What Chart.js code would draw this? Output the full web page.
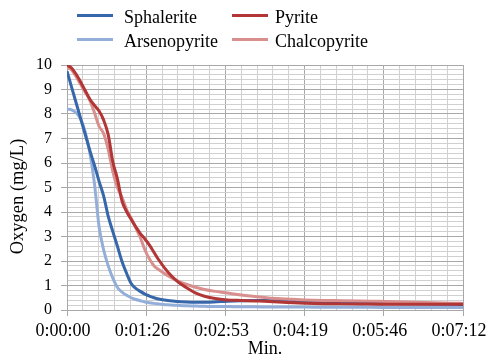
<!DOCTYPE html>
<html>
<head>
<meta charset="utf-8">
<script src="https://cdn.jsdelivr.net/npm/chart.js@4.4.1/dist/chart.umd.min.js"></script>
<style>
  body { margin: 0; background: #fff; }
  #contenedor { position: relative; width: 487px; height: 360px; }
  #leyenda { position: absolute; left: 0; top: 0; width: 487px; height: 60px;
             font-family: "Liberation Serif", "Times New Roman", serif; font-size: 18px; color: #000; }
  .linea { position: absolute; width: 36px; height: 3px; }
  .texto { position: absolute; line-height: 20px; white-space: nowrap; }
</style>
</head>
<body>
<div id="contenedor">
  <canvas id="oxigeno" width="487" height="360"></canvas>
  <div id="leyenda"></div>
</div>
<script>
// Tiempo en segundos (eje x va de 0:00:00 a 0:07:12)
const segundos = [0, 5, 10, 15, 20, 25, 30, 35, 40, 45, 50, 55, 60, 65, 70, 75, 80, 85, 90, 95,
                  100, 110, 120, 130, 140, 150, 160, 175, 190, 205, 220, 240, 260, 280, 300, 330, 360, 390, 420, 432]

// Oxígeno (mg/L)
const sphalerite = [9.75, 9.1, 8.45, 7.8, 7.15, 6.5, 5.9, 5.25, 4.65, 3.82, 3.2, 2.6, 1.98, 1.5, 1.08, 0.88, 0.76, 0.65, 0.57, 0.5,
                    0.45, 0.39, 0.35, 0.33, 0.32, 0.32, 0.33, 0.36, 0.38, 0.39, 0.39, 0.37, 0.35, 0.33, 0.31, 0.29, 0.27, 0.25, 0.23, 0.22]
const pyrite = [10.0, 9.88, 9.62, 9.3, 8.95, 8.6, 8.35, 8.12, 7.75, 7.15, 6.05, 5.35, 4.45, 4.02, 3.7, 3.4, 3.12, 2.9, 2.65, 2.35,
                2.05, 1.55, 1.18, 0.92, 0.7, 0.56, 0.48, 0.41, 0.39, 0.37, 0.35, 0.31, 0.28, 0.26, 0.25, 0.24, 0.23, 0.23, 0.23, 0.23]
const arsenopyrite = [8.2, 8.17, 8.05, 7.78, 7.25, 6.4, 5.15, 3.4, 2.45, 1.8, 1.3, 0.92, 0.73, 0.6, 0.5, 0.43, 0.38, 0.33, 0.3, 0.27,
                      0.25, 0.21, 0.19, 0.17, 0.16, 0.15, 0.14, 0.14, 0.13, 0.13, 0.12, 0.12, 0.12, 0.11, 0.11, 0.11, 0.1, 0.1, 0.1, 0.1]
const chalcopyrite = [9.92, 9.8, 9.52, 9.2, 8.88, 8.55, 8.05, 7.5, 7.2, 6.55, 5.65, 5.0, 4.6, 4.1, 3.75, 3.35, 2.95, 2.45, 2.08, 1.8,
                      1.65, 1.4, 1.2, 1.05, 0.93, 0.84, 0.77, 0.69, 0.61, 0.55, 0.49, 0.45, 0.41, 0.39, 0.38, 0.36, 0.34, 0.31, 0.28, 0.27]

// Etiquetas de los ejes
const etiquetasX = ['0:00:00', '0:01:26', '0:02:53', '0:04:19', '0:05:46', '0:07:12']
const etiquetasY = ['0', '1', '2', '3', '4', '5', '6', '7', '8', '9', '10']
const tituloX = 'Min.'
const tituloY = 'Oxygen (mg/L)'

const colores = {
    sphalerite: '#3767ab',
    pyrite: '#b23636',
    arsenopyrite: '#93afd9',
    chalcopyrite: '#da8f8f'
}

const fuente = '"Liberation Serif", "Times New Roman", serif'
const gris = '#a8a8a8'
const grisClaro = '#d0d0d0'
const pasoX = 86.4

function esMayorX(v){
    const k = v / pasoX
    return Math.abs(k - Math.round(k)) < 1e-6
}
function esMayorY(v){
    return Math.abs(v - Math.round(v)) < 1e-6
}

function serie(nombre, valores, color, orden){
    return {
        label: nombre,
        data: segundos.map((t, i) => ({x: t, y: valores[i]})),
        borderColor: color,
        backgroundColor: color,
        borderWidth: 3,
        pointRadius: 0,
        cubicInterpolationMode: 'monotone',
        order: orden
    }
}

//Leyenda en HTML (dos columnas, como el original)
const itemsLeyenda = [
    {nombre: 'Sphalerite', color: colores.sphalerite, xl: 77, xt: 124, y: 15},
    {nombre: 'Pyrite', color: colores.pyrite, xl: 232, xt: 275, y: 15},
    {nombre: 'Arsenopyrite', color: colores.arsenopyrite, xl: 77, xt: 124, y: 39},
    {nombre: 'Chalcopyrite', color: colores.chalcopyrite, xl: 232, xt: 275, y: 39}
]
const leyenda = document.getElementById('leyenda')
itemsLeyenda.forEach(it => {
    const l = document.createElement('span')
    l.className = 'linea'
    l.style.left = it.xl + 'px'
    l.style.top = (it.y - 1.5) + 'px'
    l.style.background = it.color
    leyenda.appendChild(l)
    const t = document.createElement('span')
    t.className = 'texto'
    t.style.left = it.xt + 'px'
    t.style.top = (it.y - 8) + 'px'
    t.textContent = it.nombre
    leyenda.appendChild(t)
})

// Título del eje y: en el original está un poco por debajo del centro del eje
const pluginTituloY = {
    id: 'tituloY',
    afterDraw(chart){
        const c = chart.ctx
        const area = chart.chartArea
        c.save()
        c.translate(18, (area.top + area.bottom) / 2 + 9)
        c.rotate(-Math.PI / 2)
        c.font = '18.5px ' + fuente
        c.fillStyle = '#000'
        c.textAlign = 'center'
        c.textBaseline = 'middle'
        c.fillText(tituloY, 0, 0)
        c.restore()
    }
}

Chart.defaults.font.family = fuente
Chart.defaults.color = '#000'

let ctx = document.getElementById('oxigeno')
const config = {
    type: 'line',
    data: {
        datasets: [
            serie('Sphalerite', sphalerite, colores.sphalerite, 2),
            serie('Pyrite', pyrite, colores.pyrite, 0),
            serie('Arsenopyrite', arsenopyrite, colores.arsenopyrite, 3),
            serie('Chalcopyrite', chalcopyrite, colores.chalcopyrite, 1)
        ]
    },
    options: {
        responsive: false,
        animation: false,
        layout: { padding: { top: 65, right: 24, bottom: 0, left: 0 } },
        plugins: {
            legend: { display: false },
            tooltip: { enabled: false }
        },
        scales: {
            x: {
                type: 'linear',
                min: 0,
                max: 432,
                ticks: {
                    stepSize: pasoX / 5,
                    autoSkip: false,
                    maxRotation: 0,
                    padding: 4,
                    labelOffset: -4,
                    font: { size: 18 },
                    callback: v => esMayorX(v) ? etiquetasX[Math.round(v / pasoX)] : ''
                },
                grid: {
                    color: c => esMayorX(c.tick.value) ? gris : grisClaro,
                    tickColor: c => esMayorX(c.tick.value) ? gris : 'rgba(0,0,0,0)',
                    tickLength: 6
                },
                border: { color: gris },
                title: {
                    display: true,
                    text: tituloX,
                    font: { size: 18 },
                    padding: { top: 0, bottom: 0 }
                },
                afterFit: s => { s.height = 50; s.paddingLeft = 0; s.paddingRight = 0 }
            },
            y: {
                min: 0,
                max: 10,
                ticks: {
                    stepSize: 0.2,
                    autoSkip: false,
                    padding: 9,
                    font: { size: 16 },
                    callback: v => esMayorY(v) ? etiquetasY[Math.round(v)] : ''
                },
                grid: {
                    color: c => esMayorY(c.tick.value) ? gris : grisClaro,
                    tickColor: c => esMayorY(c.tick.value) ? gris : 'rgba(0,0,0,0)',
                    tickLength: 6
                },
                border: { color: gris },
                afterFit: s => { s.width = 67; s.paddingTop = 0; s.paddingBottom = 0 }
            }
        }
    },
    plugins: [pluginTituloY]
}

const myChart = new Chart(ctx, config)
</script>
</body>
</html>
